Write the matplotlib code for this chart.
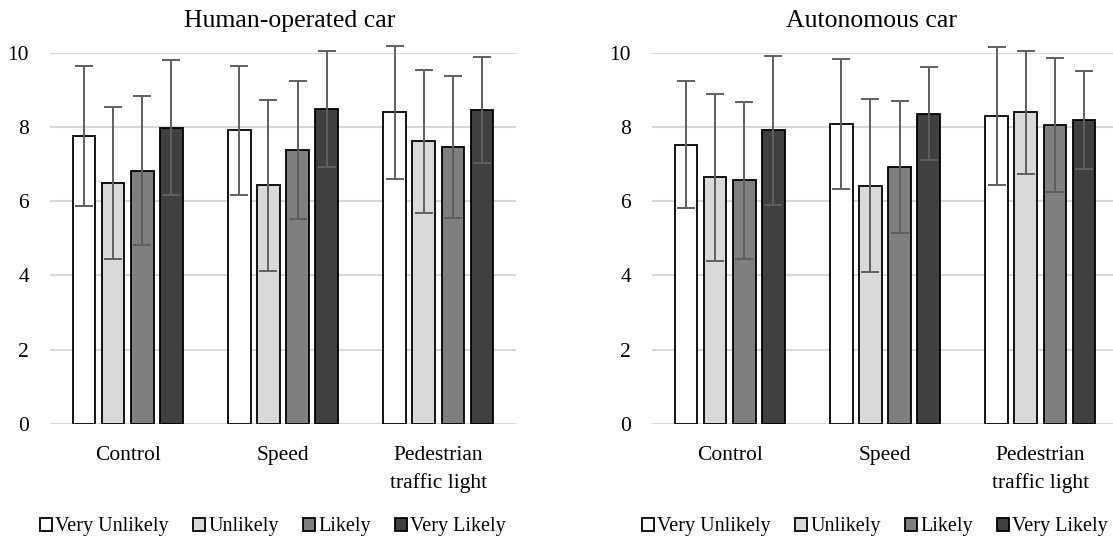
import numpy as np
import matplotlib
matplotlib.use('Agg')
import matplotlib.pyplot as plt

plt.rcParams['font.family'] = ['Liberation Serif', 'DejaVu Serif']

categories = ['Control', 'Speed', 'Pedestrian\ntraffic light']
series = ['Very Unlikely', 'Unlikely', 'Likely', 'Very Likely']
colors = ['#ffffff', '#d9d9d9', '#7f7f7f', '#404040']

# means per series (rows) and condition (cols)
human_mean = [[7.76, 7.91, 8.39],
              [6.49, 6.43, 7.61],
              [6.82, 7.38, 7.47],
              [7.98, 8.49, 8.46]]
human_sd = [[1.88, 1.73, 1.79],
            [2.05, 2.30, 1.93],
            [2.01, 1.87, 1.91],
            [1.82, 1.56, 1.42]]

auto_mean = [[7.52, 8.08, 8.29],
             [6.64, 6.42, 8.39],
             [6.56, 6.93, 8.06],
             [7.91, 8.36, 8.18]]
auto_sd = [[1.71, 1.74, 1.86],
           [2.25, 2.33, 1.65],
           [2.11, 1.78, 1.81],
           [2.01, 1.25, 1.32]]

W, H = 1113, 545
fig = plt.figure(figsize=(W / 100, H / 100), dpi=100)


def panel(left_px, means, sds, title, title_x):
    ax = fig.add_axes([left_px / W, 1 - 424 / H, 466 / W, (424 - 52.7) / H])
    x = np.arange(len(categories))
    width = 0.146
    pitch = 0.187
    for i in range(len(series)):
        pos = x + (i - 1.5) * pitch
        ax.bar(pos, means[i], width, color=colors[i], edgecolor='black',
               linewidth=1.3, label=series[i], zorder=3)
        ax.errorbar(pos, means[i], yerr=sds[i], fmt='none', ecolor='#5f5f5f',
                    elinewidth=1.4, capsize=6.5, capthick=1.4, zorder=4, clip_on=False)
    ax.set_xlim(-0.5, 2.5)
    ax.set_ylim(0, 10)
    ax.set_yticks([0, 2, 4, 6, 8, 10])
    ax.yaxis.grid(True, color='#d9d9d9', linewidth=1.5, zorder=0)
    ax.set_axisbelow(True)
    for s in ax.spines.values():
        s.set_visible(False)
    ax.tick_params(axis='both', length=0, labelsize=15.5)
    ax.tick_params(axis='y', pad=15)
    ax.tick_params(axis='x', pad=16)
    ax.set_xticks(x)
    ax.set_xticklabels(categories, linespacing=1.5)
    fig.text(title_x / W, 1 - 21 / H, title, ha='center', va='center', fontsize=18.5)
    return ax


ax1 = panel(50, human_mean, human_sd, 'Human-operated car', 290)
ax2 = panel(652, auto_mean, auto_sd, 'Autonomous car', 872)

for ax, cx in [(ax1, 273), (ax2, 875)]:
    leg = ax.legend(loc='center', bbox_to_anchor=(cx / W, 1 - 527 / H),
                    bbox_transform=fig.transFigure, ncol=4, frameon=False,
                    fontsize=14.5, handlelength=0.6, handleheight=0.6,
                    handletextpad=0.15, columnspacing=1.2)

fig.savefig('out.png', dpi=100)
